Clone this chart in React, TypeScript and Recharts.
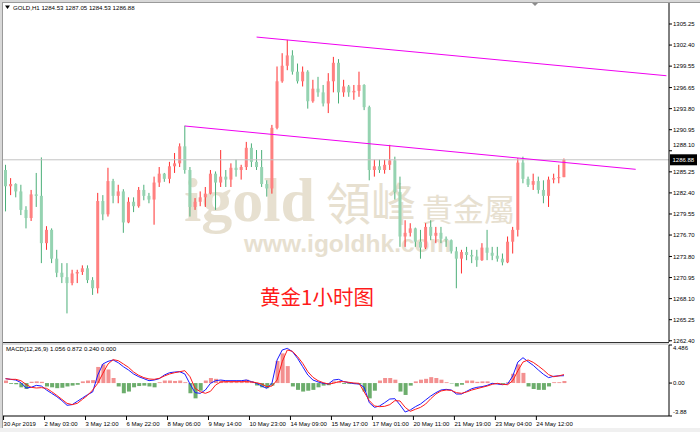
import React from "react";
import { Bar, Cell, ComposedChart, Line, ReferenceLine, XAxis, YAxis } from "recharts";

// 4-hour buckets (30 Apr 19:00 -> 24 May)
const OPEN = [
  1285.5, 1283.3, 1283.6, 1282.6, 1280.1, 1279.0, 1282.2, 1282.0, 1275.6, 1277.4,
  1273.5, 1271.6, 1271.0, 1270.2, 1271.5, 1271.7, 1272.2, 1270.6, 1269.5, 1281.3,
  1279.5, 1284.0, 1282.0, 1282.6, 1278.4, 1281.2, 1280.6, 1282.8, 1282.0, 1281.5,
  1283.8, 1285.0, 1284.3, 1286.0, 1286.4, 1288.7, 1285.5, 1280.5, 1281.2, 1281.8,
  1282.3, 1285.0, 1283.8, 1284.6, 1284.2, 1285.8, 1285.5, 1285.9, 1288.5, 1286.6,
  1285.9, 1283.6, 1283.0, 1291.2, 1297.5, 1299.6, 1301.0, 1298.8, 1297.5, 1298.8,
  1294.8, 1296.5, 1296.0, 1294.5, 1297.5, 1300.0, 1296.0, 1296.8, 1296.0, 1296.2,
  1297.0, 1294.0, 1285.5, 1286.0, 1285.5, 1286.2, 1286.8, 1282.5, 1276.5, 1277.0,
  1277.6, 1275.8, 1275.0, 1277.8, 1276.6, 1277.0, 1276.2, 1276.0, 1274.5, 1273.5,
  1274.4, 1274.0, 1273.8, 1273.3, 1275.0, 1274.3, 1273.9, 1273.5, 1273.0, 1275.8,
  1277.4, 1286.5, 1284.3, 1283.5, 1284.0, 1282.8, 1282.0, 1284.2, 1284.4, 1284.53,
];
const HIGH = [
  1286.2, 1284.4, 1283.7, 1283.5, 1280.6, 1282.8, 1285.1, 1287.2, 1277.9, 1277.6,
  1274.7, 1272.9, 1272.9, 1272.0, 1272.0, 1272.6, 1272.6, 1271.0, 1282.4, 1282.1,
  1285.8, 1284.3, 1283.5, 1282.9, 1281.8, 1281.8, 1283.2, 1283.5, 1282.4, 1284.6,
  1285.9, 1285.1, 1286.6, 1287.8, 1289.1, 1291.5, 1285.9, 1281.7, 1282.6, 1283.2,
  1285.5, 1285.3, 1288.2, 1285.5, 1286.4, 1286.9, 1286.2, 1289.3, 1289.1, 1288.2,
  1288.2, 1284.1, 1291.6, 1299.5, 1301.3, 1303.1, 1301.7, 1299.9, 1299.5, 1299.0,
  1297.7, 1298.1, 1297.0, 1298.6, 1300.8, 1300.5, 1297.7, 1297.0, 1297.0, 1298.8,
  1297.1, 1294.2, 1286.9, 1286.9, 1286.9, 1288.9, 1287.3, 1284.6, 1278.7, 1278.3,
  1277.7, 1277.4, 1278.3, 1278.7, 1277.8, 1277.8, 1276.5, 1276.1, 1275.1, 1274.7,
  1275.1, 1274.7, 1274.7, 1275.6, 1277.4, 1275.1, 1275.1, 1274.2, 1276.5, 1277.8,
  1287.1, 1287.3, 1284.6, 1285.0, 1284.6, 1284.1, 1284.6, 1285.0, 1286.2, 1287.05,
];
const LOW = [
  1279.9, 1282.1, 1281.8, 1279.4, 1277.6, 1278.6, 1280.5, 1272.9, 1274.7, 1272.9,
  1271.0, 1270.2, 1266.1, 1269.9, 1270.2, 1271.3, 1270.2, 1268.6, 1268.8, 1278.7,
  1279.2, 1281.0, 1281.0, 1277.0, 1278.3, 1279.8, 1280.4, 1281.4, 1281.0, 1278.1,
  1283.2, 1283.9, 1283.7, 1285.1, 1285.9, 1285.0, 1279.2, 1280.1, 1280.6, 1280.5,
  1282.2, 1280.1, 1283.2, 1283.2, 1283.2, 1284.6, 1284.2, 1285.5, 1285.9, 1285.5,
  1283.2, 1281.9, 1282.3, 1291.0, 1297.3, 1299.0, 1298.4, 1297.2, 1296.8, 1293.8,
  1294.6, 1295.4, 1294.1, 1293.2, 1296.0, 1294.5, 1295.4, 1295.4, 1295.0, 1295.4,
  1293.6, 1284.1, 1284.6, 1285.1, 1285.0, 1285.5, 1281.5, 1275.1, 1275.1, 1276.5,
  1275.1, 1273.5, 1274.8, 1276.0, 1275.6, 1275.6, 1275.1, 1274.2, 1269.5, 1271.5,
  1273.3, 1272.9, 1272.4, 1273.2, 1273.3, 1273.3, 1273.1, 1272.6, 1272.9, 1274.2,
  1276.5, 1283.7, 1283.2, 1282.8, 1282.3, 1281.0, 1280.5, 1283.7, 1283.7, 1284.53,
];
const CLOSE = [
  1283.3, 1283.6, 1282.6, 1280.1, 1279.0, 1282.2, 1282.0, 1275.6, 1277.4, 1273.5,
  1271.6, 1271.0, 1270.2, 1271.5, 1271.7, 1272.2, 1270.6, 1269.5, 1281.3, 1279.5,
  1284.0, 1282.0, 1282.6, 1278.4, 1281.2, 1280.6, 1282.8, 1282.0, 1281.5, 1283.8,
  1285.0, 1284.3, 1286.0, 1286.4, 1288.7, 1285.5, 1280.5, 1281.2, 1281.8, 1282.3,
  1285.0, 1283.8, 1284.6, 1284.2, 1285.8, 1285.5, 1285.9, 1288.5, 1286.6, 1285.9,
  1283.6, 1283.0, 1291.2, 1297.5, 1299.6, 1301.0, 1298.8, 1297.5, 1298.8, 1294.8,
  1296.5, 1296.0, 1294.5, 1297.5, 1300.0, 1296.0, 1296.8, 1296.0, 1296.2, 1297.0,
  1294.0, 1285.5, 1286.0, 1285.5, 1286.2, 1286.8, 1282.5, 1276.5, 1277.0, 1277.6,
  1275.8, 1275.0, 1277.8, 1276.6, 1277.0, 1276.2, 1276.0, 1274.5, 1273.5, 1274.4,
  1274.0, 1273.8, 1273.3, 1275.0, 1274.3, 1273.9, 1273.5, 1273.0, 1275.8, 1277.4,
  1286.5, 1284.3, 1283.5, 1284.0, 1282.8, 1282.0, 1284.2, 1284.4, 1284.53, 1286.88,
];

// MACD(12,26,9): blue main, red signal, histogram
const MACD_MAIN = [
  0.52, 0.44, 0.36, 0.05, -0.58, -0.5, -0.27, -0.35, -0.82, -1.21,
  -1.6, -2.07, -2.62, -2.54, -2.15, -1.76, -1.37, -1.05, 0.95, 2.25,
  2.56, 2.72, 2.4, 1.93, 1.54, 1.07, 0.75, 0.52, 0.28, 0.36,
  0.52, 0.95, 1.22, 1.3, 1.34, 1.07, -0.11, -1.13, -1.21, -0.82,
  -0.03, 0.28, 0.36, 0.28, 0.28, 0.28, 0.28, 0.36, 0.17, -0.03,
  -0.35, -0.62, -0.03, 2.72, 3.9, 4.09, 3.7, 2.91, 1.93, 0.95,
  0.36, 0.13, -0.03, -0.11, 0.36, 0.44, 0.17, 0.05, -0.07, -0.11,
  -0.5, -2.31, -2.86, -2.7, -2.31, -1.88, -1.84, -2.58, -3.41, -3.17,
  -2.78, -2.47, -1.99, -1.52, -1.13, -0.82, -0.74, -0.82, -1.29, -1.29,
  -0.97, -0.66, -0.5, -0.42, -0.27, -0.03, -0.11, -0.19, -0.11, 0.83,
  2.48, 2.99, 2.52, 2.09, 1.54, 1.03, 0.64, 0.8, 0.85, 0.87,
];
const MACD_SIGNAL = [
  0.52, 0.44, 0.44, 0.28, -0.15, -0.5, -0.58, -0.54, -0.62, -1.01,
  -1.45, -1.92, -2.39, -2.54, -2.39, -1.92, -1.45, -0.82, -0.03, 1.15,
  2.25, 2.76, 2.64, 2.25, 1.85, 1.3, 0.91, 0.64, 0.48, 0.44,
  0.56, 0.83, 1.07, 1.22, 1.34, 1.46, 0.75, -0.62, -1.01, -1.21,
  -0.97, -0.23, 0.13, 0.17, 0.17, 0.17, 0.17, 0.17, 0.13, 0.05,
  -0.11, -0.42, -0.35, 0.36, 2.52, 3.9, 3.74, 3.11, 2.33, 1.34,
  0.68, 0.28, 0.05, -0.11, -0.03, 0.17, 0.17, 0.09, 0.01, -0.03,
  -1.05, -2.07, -2.7, -2.78, -2.74, -2.54, -2.07, -2.11, -2.86, -3.33,
  -3.09, -2.86, -2.47, -1.84, -1.29, -0.93, -0.82, -0.86, -1.13, -1.21,
  -1.05, -0.82, -0.66, -0.5, -0.35, -0.15, -0.03, -0.15, -0.19, 0.28,
  1.46, 2.48, 2.72, 2.44, 2.01, 1.54, 0.99, 0.75, 0.85, 1.0,
];
const MACD_HIST = [
  0.3, -0.1, -0.15, -0.5, -0.7, 0.15, 0.2, 0.15, -0.4, -0.5,
  -0.6, -0.55, -0.4, -0.3, -0.2, 0.2, 0.3, 0.35, 1.9, 2.2,
  1.6, 0.6, -0.4, -1.2, -1.0, -0.5, -0.35, -0.3, -0.4, -0.5,
  0.1, 0.3, 0.3, 0.25, 0.3, 0.1, -1.2, -1.8, -0.9, 0.3,
  0.6, 0.5, 0.3, 0.2, 0.15, 0.2, 0.2, 0.4, 0.2, -0.3,
  -0.5, -0.6, -0.3, 2.6, 3.5, 2.0, -0.4, -0.8, -1.0, -0.9,
  -0.8, -0.5, -0.3, -0.25, 0.2, 0.15, -0.1, -0.1, -0.1, -0.15,
  -1.0, -1.8, -0.9, 0.3, 0.6, 0.6, 0.4, -1.0, -1.4, -0.3,
  0.2, 0.4, 0.5, 0.7, 0.6, 0.4, 0.1, -0.05, -0.4, -0.2,
  0.3, 0.3, 0.15, 0.2, 0.2, -0.05, -0.05, -0.1, 0.1, 1.1,
  2.2, 1.2, -0.4, -0.7, -0.8, -0.8, -0.4, 0.1, 0.1, 0.24,
];

const DATE_LABELS: Record<number, string> = {
  0: "30 Apr 2019", 8: "2 May 03:00", 16: "3 May 12:00", 24: "6 May 22:00",
  32: "8 May 06:00", 40: "9 May 14:00", 48: "10 May 23:00", 56: "14 May 09:00",
  64: "15 May 17:00", 72: "17 May 01:00", 80: "20 May 11:00", 88: "21 May 19:00",
  96: "23 May 04:00", 104: "24 May 12:00",
};
const PRICE_TICKS = [
  1305.25, 1302.4, 1299.55, 1296.65, 1293.8, 1290.95, 1288.1, 1285.25,
  1282.4, 1279.55, 1276.7, 1273.8, 1270.95, 1268.1, 1265.25, 1262.4,
];
const MACD_TICKS = [4.486, 0, -3.88];
const MACD_TICK_TEXT: Record<string, string> = { "4.486": "4.486", "0": "0.00", "-3.88": "-3.88" };

const LAST_PRICE = 1286.88;
const UPPER_TREND = [{ x: 49, y: 1303.48 }, { x: 129, y: 1298.25 }];
const LOWER_TREND = [{ x: 35, y: 1291.45 }, { x: 123, y: 1285.59 }];

const SLOTS = 130; // bars plus the empty chart-shift area on the right
const FONT = "'Liberation Sans', Arial, sans-serif";
const MARK = "#e7e0d0";

const priceRows = Array.from({ length: SLOTS }, (_, i) =>
  i < CLOSE.length
    ? { i, o: OPEN[i], h: HIGH[i], l: LOW[i], c: CLOSE[i], range: [LOW[i], HIGH[i]] }
    : { i, range: null }
);
const macdRows = Array.from({ length: SLOTS }, (_, i) => ({
  i,
  main: MACD_MAIN[i] ?? null,
  signal: MACD_SIGNAL[i] ?? null,
  hist: MACD_HIST[i] ?? null,
}));

const Candle = (props: any) => {
  const { x, y, width, height, payload } = props;
  if (!payload || payload.o == null || height == null) return null;
  const { o, h, l, c } = payload;
  const top = Math.min(y, y + height);
  const full = Math.abs(height);
  const k = full / (h - l || 1);
  const bodyTop = top + (h - Math.max(o, c)) * k;
  const bodyH = Math.max(1, Math.abs(o - c) * k);
  const cx = x + width / 2;
  const up = c >= o;
  return (
    <g>
      <line x1={cx} x2={cx} y1={top} y2={top + full} stroke={up ? "#ff2e2e" : "#4bae78"} strokeWidth={1} />
      <rect x={x} y={bodyTop} width={width} height={bodyH} fill={up ? "#ff8080" : "#95d3b1"} />
    </g>
  );
};

const PriceTick = ({ x, y, payload }: any) => {
  const v = payload.value;
  const shift = v === 1288.1 ? -6 : 0; // MT4 pushes it above the price box
  return (
    <text x={x} y={y + shift} dy={2.2} fontSize={6} fontFamily={FONT} fill="#000" textAnchor="start">
      {v.toFixed(2)}
    </text>
  );
};

const MacdTick = ({ x, y, payload }: any) => {
  const v = payload.value;
  const shift = v > 4 ? 3 : v < -3 ? -4 : 0;
  return (
    <text x={x} y={y + shift} dy={2.2} fontSize={6} fontFamily={FONT} fill="#000" textAnchor="start">
      {MACD_TICK_TEXT[String(v)]}
    </text>
  );
};

const DateTick = ({ x, y, payload }: any) => {
  const label = DATE_LABELS[payload.value];
  if (!label) return null;
  const tx = x - 2;
  return (
    <g>
      <line x1={tx} x2={tx} y1={y - 4} y2={y} stroke="#000" />
      <text x={tx} y={y + 5.5} fontSize={6} fontFamily={FONT} fill="#000" textAnchor="start">
        {label}
      </text>
    </g>
  );
};

const PriceBox = (props: any) => {
  const vb = props.viewBox || {};
  const bx = (vb.x || 0) + (vb.width || 0) + 1;
  const by = vb.y || 0;
  return (
    <g>
      <rect x={bx} y={by - 5.5} width={27} height={11} fill="#000" />
      <text x={bx + 2.5} y={by + 2.2} fontSize={6} fontFamily={FONT} fill="#fff">
        {LAST_PRICE.toFixed(2)}
      </text>
    </g>
  );
};

export default function App() {
  return (
    <div style={{ position: "fixed", left: 0, top: 0, width: 700, height: 432, background: "#fff", overflow: "hidden" }}>
      {/* watermark behind the bars */}
      <svg width={700} height={432} style={{ position: "absolute", left: 0, top: 0 }}>
        <text x={184} y={221} fontFamily="'Liberation Serif', serif" fontWeight="bold" fontSize={62} fill={MARK}>
          igold
        </text>
        <text x={326} y={221} fontFamily="'Noto Sans CJK TC'" fontSize={45} fill={MARK}>
          領峰
        </text>
        <text x={422} y={221} fontFamily="'Noto Sans CJK TC'" fontSize={31} fill={MARK}>
          貴金屬
        </text>
        <text x={244} y={252} fontFamily={FONT} fontWeight="bold" fontSize={24.5} fill={MARK}>
          www.igoldhk.com
        </text>
      </svg>

      <div style={{ position: "absolute", left: 0, top: 0 }}>
        <ComposedChart width={700} height={343} data={priceRows} margin={{ top: 3, right: 0, bottom: 1, left: 3 }}>
          <XAxis dataKey="i" hide />
          <YAxis
            orientation="right"
            width={31}
            domain={[1262.23, 1308.09]}
            allowDataOverflow
            ticks={PRICE_TICKS}
            interval={0}
            tickSize={3}
            tickMargin={1}
            axisLine={{ stroke: "#000" }}
            tickLine={{ stroke: "#000" }}
            tick={PriceTick}
          />
          <ReferenceLine y={LAST_PRICE} stroke="#c4c4c4" label={PriceBox} />
          <ReferenceLine segment={UPPER_TREND} stroke="#f000f0" strokeWidth={1} />
          <ReferenceLine segment={LOWER_TREND} stroke="#f000f0" strokeWidth={1} />
          <Bar dataKey="range" barSize={3} isAnimationActive={false} shape={(p: any) => <Candle {...p} />} />
        </ComposedChart>
      </div>

      <div style={{ position: "absolute", left: 0, top: 344 }}>
        <ComposedChart width={700} height={88} data={macdRows} margin={{ top: 1, right: 0, bottom: 0, left: 3 }}>
          <XAxis
            dataKey="i"
            height={16}
            interval={0}
            tickSize={4}
            tickMargin={0}
            tickLine={false}
            axisLine={{ stroke: "#000" }}
            tick={(p: any) => <DateTick {...p} />}
          />
          <YAxis
            orientation="right"
            width={31}
            domain={[-3.88, 4.486]}
            allowDataOverflow
            ticks={MACD_TICKS}
            interval={0}
            tickSize={3}
            tickMargin={1}
            axisLine={{ stroke: "#000" }}
            tickLine={{ stroke: "#000" }}
            tick={MacdTick}
          />
          <Bar dataKey="hist" barSize={4} isAnimationActive={false}>
            {macdRows.map((r) => (
              <Cell key={r.i} fill={(r.hist ?? 0) >= 0 ? "#f39090" : "#6cad6c"} />
            ))}
          </Bar>
          <Line dataKey="main" stroke="#1a1aff" strokeWidth={1} dot={false} isAnimationActive={false} />
          <Line dataKey="signal" stroke="#ff1a1a" strokeWidth={1} dot={false} isAnimationActive={false} />
        </ComposedChart>
      </div>

      {/* MT4 frame, header texts and caption */}
      <svg width={700} height={432} style={{ position: "absolute", left: 0, top: 0, pointerEvents: "none" }}>
        <rect x={0} y={0} width={700} height={2} fill="#d8d8d8" />
        <line x1={0} x2={700} y1={2.5} y2={2.5} stroke="#9a9a9a" />
        <rect x={0} y={0} width={2} height={432} fill="#d8d8d8" />
        <line x1={2.5} x2={2.5} y1={2} y2={428} stroke="#9a9a9a" />
        <rect x={0} y={428} width={700} height={4} fill="#f0f0f0" />
        <polygon points="532,3 538,3 535,6" fill="#8c8c8c" />
        <line x1={3} x2={669} y1={342.5} y2={342.5} stroke="#333" />
        <line x1={3} x2={669} y1={344} y2={344} stroke="#b4b4b4" />
        <polygon points="5,5.5 10,5.5 7.5,9" fill="#000" />
        <text x={13} y={9.6} fontSize={6.1} fontFamily={FONT} fill="#000">
          GOLD,H1  1284.53 1287.05 1284.53 1286.88
        </text>
        <text x={6} y={351.2} fontSize={6.1} fontFamily={FONT} fill="#000">
          MACD(12,26,9) 1.056 0.872 0.240 0.000
        </text>
        <text x={260} y={305} fontFamily="'Noto Sans CJK SC'" fontSize={20.5} fill="#ff1a1a">
          黄金1小时图
        </text>
      </svg>
    </div>
  );
}
